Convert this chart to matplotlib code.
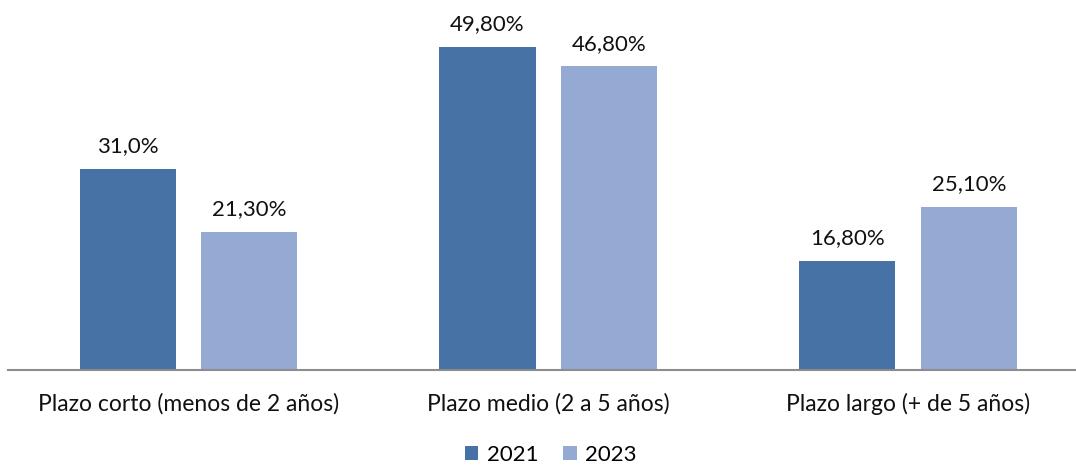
import numpy as np
import matplotlib.pyplot as plt

# datos
categorias = ['Plazo corto (menos de 2 años)', 'Plazo medio (2 a 5 años)', 'Plazo largo (+ de 5 años)']
valores_2021 = [31.0, 49.8, 16.8]
valores_2023 = [21.3, 46.8, 25.1]
etiquetas_2021 = ['31,0%', '49,80%', '16,80%']
etiquetas_2023 = ['21,30%', '46,80%', '25,10%']

COLOR_2021 = '#4672A6'
COLOR_2023 = '#95AAD2'

plt.rcParams['font.family'] = ['Lato', 'DejaVu Sans']

fig = plt.figure(figsize=(10.76, 4.65), dpi=100)
ax = fig.add_axes([8 / 1076, 95.5 / 465, 1068 / 1076, 359.5 / 465])

x = np.arange(len(categorias))
w = 0.267
off = 0.169
b1 = ax.bar(x - off, valores_2021, w, color=COLOR_2021, label='2021')
b2 = ax.bar(x + off, valores_2023, w, color=COLOR_2023, label='2023')

for bars, labs in ((b1, etiquetas_2021), (b2, etiquetas_2023)):
    for bar, lab in zip(bars, labs):
        ax.annotate(lab, (bar.get_x() + bar.get_width() / 2, bar.get_height()),
                    xytext=(0, 9), textcoords='offset points',
                    ha='center', va='bottom', fontsize=16, color='#111111')

ax.set_xlim(-0.502, 2.467)
ax.set_ylim(0, 55.5)
ax.set_xticks(x)
ax.set_xticklabels(categorias, fontsize=16.5, color='#111111')
ax.tick_params(axis='x', length=0, pad=17)
ax.set_yticks([])
for s in ['top', 'right', 'left']:
    ax.spines[s].set_visible(False)
ax.spines['bottom'].set_color('#8c8c8c')
ax.spines['bottom'].set_linewidth(1.5)

fig.legend(handles=[b1, b2], loc='center', bbox_to_anchor=(551 / 1076, 1 - 455 / 465),
           ncol=2, frameon=False, fontsize=16, handlelength=0.6, handleheight=0.6,
           columnspacing=1.1, handletextpad=0.4)

fig.savefig('out.png', dpi=100)
